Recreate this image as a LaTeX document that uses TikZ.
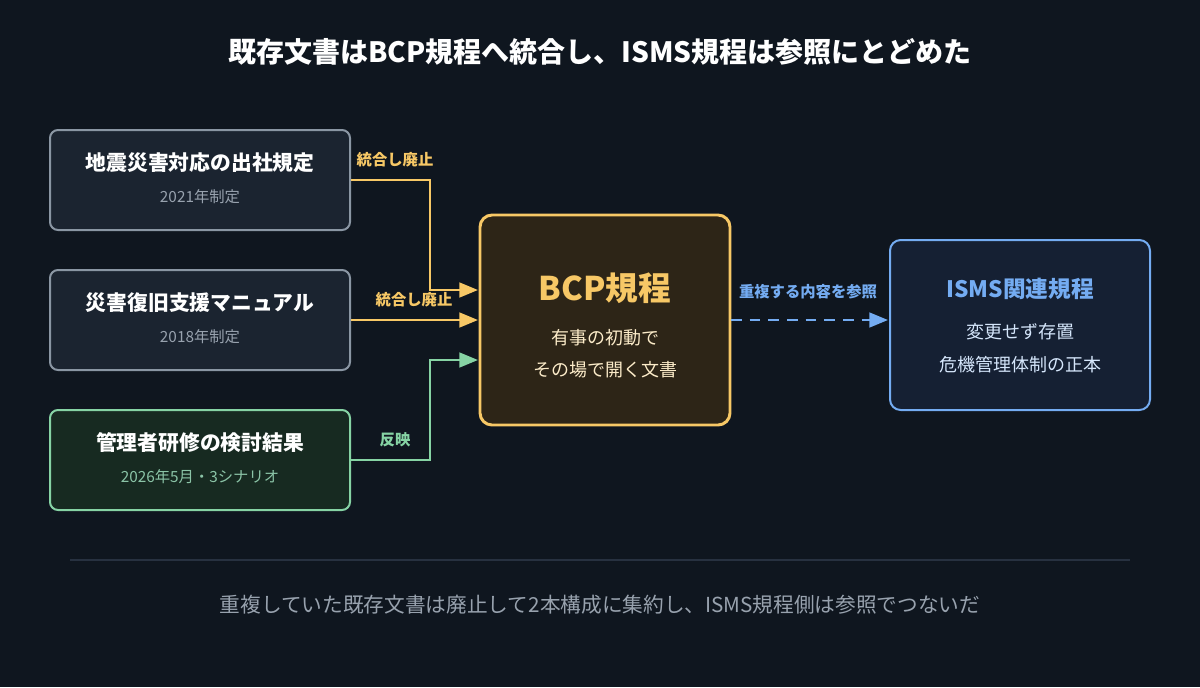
\documentclass[tikz,border=0pt]{standalone}
\usepackage{fontspec}
\setmainfont{Noto Sans CJK JP}
\usetikzlibrary{arrows.meta}
\definecolor{bg}{HTML}{0F161F}
\definecolor{boxf}{HTML}{1B2430}
\definecolor{boxd}{HTML}{8A96A3}
\definecolor{grnf}{HTML}{172A21}
\definecolor{grnd}{HTML}{86D3A4}
\definecolor{yel}{HTML}{F7C866}
\definecolor{yelf}{HTML}{2D2517}
\definecolor{blu}{HTML}{74ACF2}
\definecolor{bluf}{HTML}{152033}
\definecolor{subg}{HTML}{98A2AE}
\definecolor{rule}{HTML}{273140}
\begin{document}
\begin{tikzpicture}[x=0.75pt,y=-0.75pt,
 box/.style={draw=boxd,fill=boxf,line width=1.5pt,rounded corners=6pt},
 ttl/.style={font=\bfseries\fontsize{15.6}{17}\selectfont,text=white},
 sub/.style={font=\fontsize{11.5}{13}\selectfont,text=subg},
 lbl/.style={font=\bfseries\fontsize{11.5}{13}\selectfont},
 arr/.style={line width=2pt,-{Triangle[length=14pt,width=11pt]}}]
\fill[bg] (0,0) rectangle (1200,687);
\node[font=\bfseries\fontsize{21}{24}\selectfont,text=white] (title) at (600,52) {既存文書はBCP規程へ統合し、ISMS規程は参照にとどめた};
\draw[box] (50,130) rectangle (350,230);
\node[ttl] (t1) at (200,163) {地震災害対応の出社規定};
\node[sub] (s1) at (200,197) {2021年制定};
\draw[box] (50,270) rectangle (350,370);
\node[ttl] (t2) at (200,303) {災害復旧支援マニュアル};
\node[sub] (s2) at (200,337) {2018年制定};
\draw[box,draw=grnd,fill=grnf] (50,410) rectangle (350,510);
\node[ttl] (t3) at (200,443) {管理者研修の検討結果};
\node[sub,text=grnd!70!subg] (s3) at (200,477) {2026年5月・3シナリオ};
\draw[box,draw=yel,fill=yelf,line width=2.2pt,rounded corners=9pt] (480,215) rectangle (730,425);
\node[font=\bfseries\fontsize{24.5}{27}\selectfont,text=yel] (bcp) at (605,288) {BCP規程};
\node[font=\fontsize{13.5}{15}\selectfont,text=yel!35!white] (b1) at (605,338) {有事の初動で};
\node[font=\fontsize{13.5}{15}\selectfont,text=yel!35!white] (b2) at (605,370) {その場で開く文書};
\draw[box,draw=blu,fill=bluf,rounded corners=8pt] (890,240) rectangle (1150,410);
\node[font=\bfseries\fontsize{17}{19}\selectfont,text=blu] (isms) at (1020,289) {ISMS関連規程};
\node[font=\fontsize{13.5}{15}\selectfont,text=blu!30!white] (i1) at (1020,332) {変更せず存置};
\node[font=\fontsize{13.5}{15}\selectfont,text=blu!30!white] (i2) at (1020,365) {危機管理体制の正本};
\coordinate (a1) at (351,180); \coordinate (e1) at (478,290);
\coordinate (a2) at (351,320); \coordinate (e2) at (478,320);
\coordinate (a3) at (351,460); \coordinate (e3) at (478,360);
\draw[arr,yel] (a1) -- (430,180) -- (430,290) -- (e1);
\draw[arr,yel] (a2) -- (e2);
\draw[arr,grnd] (a3) -- (430,460) -- (430,360) -- (e3);
\node[lbl,text=yel] (l1) at (395,160) {統合し廃止};
\node[lbl,text=yel] (l2) at (414,300) {統合し廃止};
\node[lbl,text=grnd] (l3) at (395,440) {反映};
\coordinate (d1) at (731,320); \coordinate (d2) at (888,320);
\draw[blu,line width=2pt,dash pattern=on 8pt off 6pt,-{Triangle[length=14pt,width=11pt]}] (d1) -- (d2);
\node[lbl,text=blu] (l4) at (808,292) {重複する内容を参照};
\draw[rule,line width=1pt] (70,560) -- (1130,560);
\node[font=\fontsize{15.5}{17}\selectfont,text=subg] (foot) at (600,605) {重複していた既存文書は廃止して2本構成に集約し、ISMS規程側は参照でつないだ};
\end{tikzpicture}
\end{document}
